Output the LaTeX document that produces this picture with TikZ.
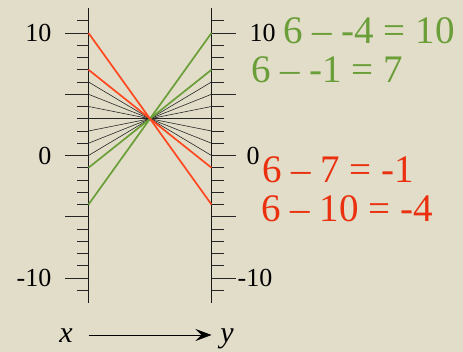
\documentclass[tikz,border=0pt]{standalone}
\usepackage{fontspec}
\setmainfont{Liberation Serif}
\usetikzlibrary{arrows.meta,positioning}
\definecolor{paper}{RGB}{225,221,201}
\definecolor{plusgreen}{RGB}{106,158,56}
\definecolor{minusred}{RGB}{255,72,32}
\definecolor{textred}{RGB}{234,48,14}

\begin{document}
\begin{tikzpicture}[x=1pt,y=-1pt, node distance=4mm and 5mm,
axis/.style={line width=1.2pt,black!90},
tick/.style={line width=0.9pt,black!85},
pair/.style={line width=0.6pt,black!85},
hi/.style={line width=1.7pt},
num/.style={font=\fontsize{26}{26}\selectfont,inner sep=0pt},
eq/.style={font=\fontsize{39}{39}\selectfont,inner sep=0pt,anchor=base west},
var/.style={font=\fontsize{30}{30}\selectfont\itshape,inner sep=0pt,anchor=base},
arr/.style={-{Stealth[length=16pt,width=12pt,inset=6pt]},line width=0.8pt}]
\fill[paper] (0,0) rectangle (463,352);
\useasboundingbox (0,0) rectangle (463,352);
% the two number lines
\coordinate (xtop) at (88.5,8); \coordinate (xbot) at (88.5,303);
\coordinate (ytop) at (211.5,8); \coordinate (ybot) at (211.5,303);
\draw[axis] (xtop) -- (xbot); \draw[axis] (ytop) -- (ybot);
\foreach \v in {-11,...,11}{
  \coordinate (L\v) at (88.5,{155.5-12.25*\v});
  \coordinate (R\v) at (211.5,{155.5-12.25*\v});
  \draw[tick] (L\v) -- ++(-12,0); \draw[tick] (R\v) -- ++(12,0);
}
\foreach \v in {-10,-5,0,5,10}{\draw[tick] (L\v) -- ++(-24,0); \draw[tick] (R\v) -- ++(24,0);}
\node[num,left=37pt of L10] (lx10) {10};
\node[num,left=37pt of L0] (lx0) {0};
\node[num,left=37pt of L-10] (lxm10) {-10};
\node[num,right=38pt of R10] (ly10) {10};
\node[num,right=35pt of R0] (ly0) {0};
\node[num,right=26pt of R-10] (lym10) {-10};
% y = 6 - x
\foreach \v in {0,...,6}{\pgfmathtruncatemacro\w{6-\v} \draw[pair] (L\v) -- (R\w);}
\draw[hi,plusgreen] (L-4) -- (R10); \draw[hi,plusgreen] (L-1) -- (R7);
\draw[hi,minusred] (L10) -- (R-4); \draw[hi,minusred] (L7) -- (R-1);
\node[eq,text=plusgreen] (g1) at (283,44) {6 – -4 = 10};
\node[eq,text=plusgreen] (g2) at (251,83) {6 – -1 = 7};
\node[eq,text=textred] (r1) at (262,183) {6 – 7 = -1};
\node[eq,text=textred] (r2) at (261,222) {6 – 10 = -4};
\node[var] (vx) at (66,343) {x};
\node[var] (vy) at (227,343) {y};
\draw[arr] ([yshift=8pt]vx.base -| L0) -- ([yshift=8pt]vy.base -| R0);
\end{tikzpicture}
\end{document}
